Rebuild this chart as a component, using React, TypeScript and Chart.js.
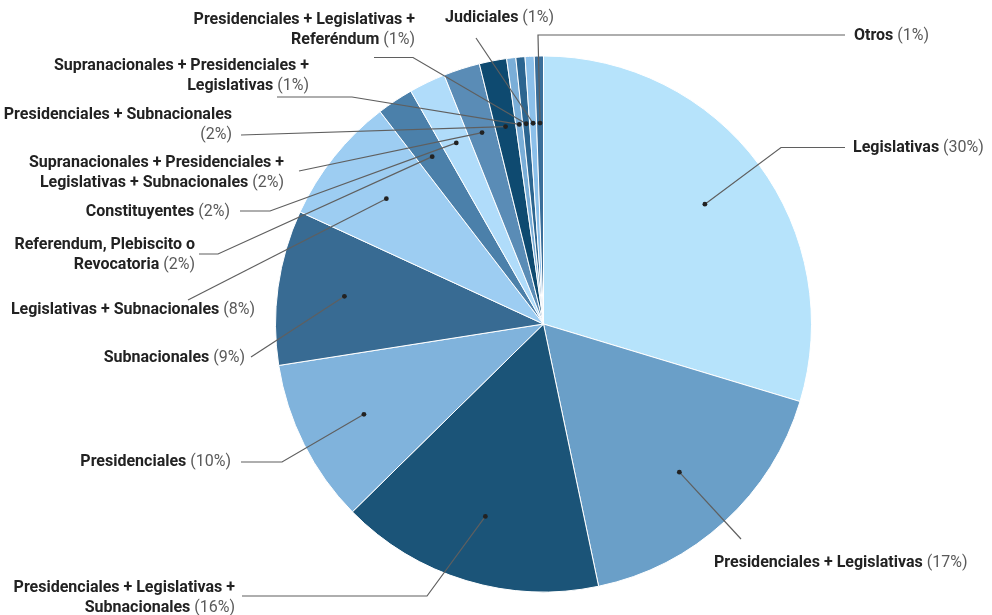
import React, { useEffect, useRef } from "react";
import { Chart, registerables } from "chart.js";

Chart.register(...registerables);

// ---- data ----
const CATEGORIES = [
  "Legislativas",
  "Presidenciales + Legislativas",
  "Presidenciales + Legislativas + Subnacionales",
  "Presidenciales",
  "Subnacionales",
  "Legislativas + Subnacionales",
  "Referendum, Plebiscito o Revocatoria",
  "Constituyentes",
  "Supranacionales + Presidenciales + Legislativas + Subnacionales",
  "Presidenciales + Subnacionales",
  "Supranacionales + Presidenciales + Legislativas",
  "Presidenciales + Legislativas + Referéndum",
  "Judiciales",
  "Otros",
];
const COUNTS = [54, 31, 29, 18, 17, 14, 4, 4, 4, 3, 1, 1, 1, 1];
const COLORS = [
  "#b6e3fb",
  "#6a9fc8",
  "#1b5478",
  "#80b3dc",
  "#386b93",
  "#9dcdf2",
  "#4b80aa",
  "#b0dcfa",
  "#5a8cb6",
  "#0e4a70",
  "#7aaed8",
  "#2c6590",
  "#8cc0ea",
  "#3a6e99",
];

// ---- label layout (how each name wraps, where its text and leader line go) ----
const LABEL_LINES: string[][] = [
  ["Legislativas"],
  ["Presidenciales + Legislativas"],
  ["Presidenciales + Legislativas +", "Subnacionales"],
  ["Presidenciales"],
  ["Subnacionales"],
  ["Legislativas + Subnacionales"],
  ["Referendum, Plebiscito o", "Revocatoria"],
  ["Constituyentes"],
  ["Supranacionales + Presidenciales +", "Legislativas + Subnacionales"],
  ["Presidenciales + Subnacionales", ""],
  ["Supranacionales + Presidenciales +", "Legislativas"],
  ["Presidenciales + Legislativas +", "Referéndum"],
  ["Judiciales"],
  ["Otros"],
];
type Layout = { x: number; y: number; align: "left" | "right"; path: number[][] };
const LABEL_LAYOUT: Layout[] = [
  { x: 853, y: 147.5, align: "left", path: [[781, 147.5], [845, 147.5]] },
  { x: 714, y: 563, align: "left", path: [[741, 539]] },
  { x: 235, y: 588, align: "right", path: [[427, 596], [242, 596]] },
  { x: 231, y: 462, align: "right", path: [[282, 462], [241, 462]] },
  { x: 245, y: 357.5, align: "right", path: [[251, 357]] },
  { x: 255, y: 310, align: "right", path: [[188, 300]] },
  { x: 195, y: 245, align: "right", path: [[218, 254], [199, 254]] },
  { x: 230, y: 211.5, align: "right", path: [[270, 211], [240, 211]] },
  { x: 284, y: 163, align: "right", path: [[299, 171]] },
  { x: 232, y: 115, align: "right", path: [[241, 135]] },
  { x: 309, y: 65.5, align: "right", path: [[352, 97], [277, 97]] },
  { x: 415, y: 20, align: "right", path: [[413, 57.5], [374, 57.5]] },
  { x: 445, y: 18, align: "left", path: [[476, 38]] },
  { x: 854, y: 36, align: "left", path: [[538, 35], [845, 35]] },
];
const LINE_HEIGHT = 20;
const DOT_RATIO = 0.75;
const FONT = "Roboto";

const outLabels = {
  id: "outLabels",
  afterDatasetsDraw(chart: any) {
    const ctx: CanvasRenderingContext2D = chart.ctx;
    const meta = chart.getDatasetMeta(0);
    const values: number[] = chart.data.datasets[0].data;
    const total = values.reduce((a, b) => a + b, 0);
    ctx.save();
    meta.data.forEach((arc: any, i: number) => {
      const p = arc.getProps(["x", "y", "startAngle", "endAngle", "outerRadius"], true);
      const mid = (p.startAngle + p.endAngle) / 2;
      const dx = p.x + Math.cos(mid) * p.outerRadius * DOT_RATIO;
      const dy = p.y + Math.sin(mid) * p.outerRadius * DOT_RATIO;
      const L = LABEL_LAYOUT[i];
      // leader line
      ctx.strokeStyle = "#5f5f5f";
      ctx.lineWidth = 1.2;
      ctx.beginPath();
      ctx.moveTo(dx, dy);
      L.path.forEach(([px, py]) => ctx.lineTo(px, py));
      ctx.stroke();
      // dot
      ctx.fillStyle = "#222";
      ctx.beginPath();
      ctx.arc(dx, dy, 2.4, 0, Math.PI * 2);
      ctx.fill();
      // text
      const pct = Math.round((values[i] / total) * 100) + "%";
      const lines = LABEL_LINES[i];
      ctx.textBaseline = "middle";
      ctx.textAlign = "left";
      lines.forEach((ln, k) => {
        const last = k === lines.length - 1;
        const bold = ln;
        const norm = last ? (ln ? " (" + pct + ")" : "(" + pct + ")") : "";
        ctx.font = `bold 16px ${FONT}`;
        const wb = ctx.measureText(bold).width;
        ctx.font = `16px ${FONT}`;
        const wn = ctx.measureText(norm).width;
        const x0 = L.align === "left" ? L.x : L.x - wb - wn;
        const yy = L.y + k * LINE_HEIGHT;
        ctx.font = `bold 16px ${FONT}`;
        ctx.fillStyle = "#222222";
        ctx.fillText(bold, x0, yy);
        ctx.font = `16px ${FONT}`;
        ctx.fillStyle = "#5a5a5a";
        ctx.fillText(norm, x0 + wb, yy);
      });
    });
    ctx.restore();
  },
};

export default function App() {
  const ref = useRef<HTMLCanvasElement | null>(null);
  useEffect(() => {
    document.body.style.margin = "0";
    const chart = new Chart(ref.current!, {
      type: "pie",
      data: {
        labels: CATEGORIES,
        datasets: [
          {
            data: COUNTS,
            backgroundColor: COLORS,
            borderColor: "#ffffff",
            borderWidth: 1,
            hoverOffset: 0,
            radius: 268,
          } as any,
        ],
      },
      options: {
        responsive: false,
        animation: false,
        layout: { padding: { left: 275, right: 180, top: 56, bottom: 23 } },
        plugins: { legend: { display: false }, tooltip: { enabled: false } },
        events: [],
      },
      plugins: [outLabels],
    });
    return () => chart.destroy();
  }, []);
  return (
    <div style={{ width: 992, height: 615, background: "#fff" }}>
      <canvas ref={ref} width={992} height={615} style={{ display: "block" }} />
    </div>
  );
}
